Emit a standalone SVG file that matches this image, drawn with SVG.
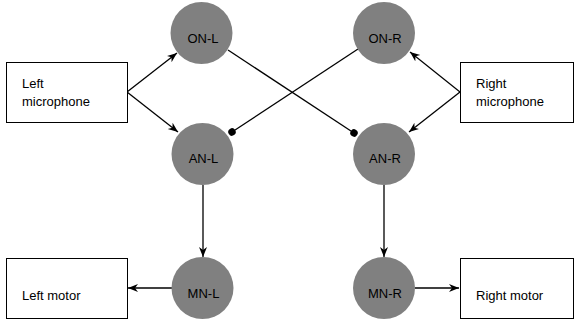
<svg xmlns="http://www.w3.org/2000/svg" width="575" height="324" viewBox="0 0 575 324">
<defs>
<style>
.box{fill:#fff;stroke:#000;stroke-width:1}
.node{fill:#808080;stroke:none}
.t{font-family:"Liberation Sans",Arial,Helvetica,sans-serif;font-size:13px;fill:#000}
.c{text-anchor:middle}
.e{fill:none;stroke:#000;stroke-width:1.3}
</style>
<marker id="arr" markerUnits="userSpaceOnUse" markerWidth="12" markerHeight="10" refX="10" refY="4" orient="auto" viewBox="0 0 12 10">
<path d="M0,0 L10,4 L0,8 L3,4 z" fill="#000"/>
</marker>
<marker id="dot" markerUnits="userSpaceOnUse" markerWidth="10" markerHeight="10" refX="5" refY="5" orient="auto" viewBox="0 0 10 10">
<circle cx="5" cy="5" r="3.7" fill="#000"/>
</marker>
</defs>
<rect width="575" height="324" fill="#fff"/>
<g id="connectors">
<line class="e" x1="127" y1="92" x2="177" y2="53" marker-end="url(#arr)"/>
<line class="e" x1="127" y1="92" x2="178" y2="132" marker-end="url(#arr)"/>
<line class="e" x1="460" y1="92" x2="410" y2="52" marker-end="url(#arr)"/>
<line class="e" x1="460" y1="92" x2="409" y2="132" marker-end="url(#arr)"/>
<line class="e" x1="228" y1="50" x2="354" y2="133" marker-end="url(#dot)"/>
<line class="e" x1="358" y1="49" x2="232" y2="132" marker-end="url(#dot)"/>
<line class="e" x1="203" y1="185" x2="203" y2="257" marker-end="url(#arr)"/>
<line class="e" x1="384" y1="185" x2="384" y2="257" marker-end="url(#arr)"/>
<line class="e" x1="172" y1="288" x2="128" y2="288" marker-end="url(#arr)"/>
<line class="e" x1="415" y1="288" x2="459" y2="288" marker-end="url(#arr)"/>
</g>
<g id="left-microphone">
<rect class="box" x="6.5" y="62.5" width="121" height="60"/>
<text class="t" x="22" y="88">Left</text>
<text class="t" x="22" y="106">microphone</text>
</g>
<g id="right-microphone">
<rect class="box" x="460.5" y="62.5" width="113" height="60"/>
<text class="t" x="476" y="88">Right</text>
<text class="t" x="476" y="106">microphone</text>
</g>
<g id="left-motor">
<rect class="box" x="6.5" y="258.5" width="121" height="60"/>
<text class="t" x="22" y="300">Left motor</text>
</g>
<g id="right-motor">
<rect class="box" x="460.5" y="258.5" width="113" height="60"/>
<text class="t" x="476" y="300">Right motor</text>
</g>
<g id="ON-L">
<circle class="node" cx="201.5" cy="33" r="31"/>
<text class="t c" x="203" y="43">ON-L</text>
</g>
<g id="ON-R">
<circle class="node" cx="384" cy="33" r="31"/>
<text class="t c" x="385" y="43">ON-R</text>
</g>
<g id="AN-L">
<circle class="node" cx="202.5" cy="154" r="31"/>
<text class="t c" x="203.5" y="163">AN-L</text>
</g>
<g id="AN-R">
<circle class="node" cx="384" cy="154" r="31"/>
<text class="t c" x="385" y="163">AN-R</text>
</g>
<g id="MN-L">
<circle class="node" cx="202.5" cy="288" r="31"/>
<text class="t c" x="203.5" y="298">MN-L</text>
</g>
<g id="MN-R">
<circle class="node" cx="384" cy="288" r="31"/>
<text class="t c" x="385" y="298">MN-R</text>
</g>
</svg>
